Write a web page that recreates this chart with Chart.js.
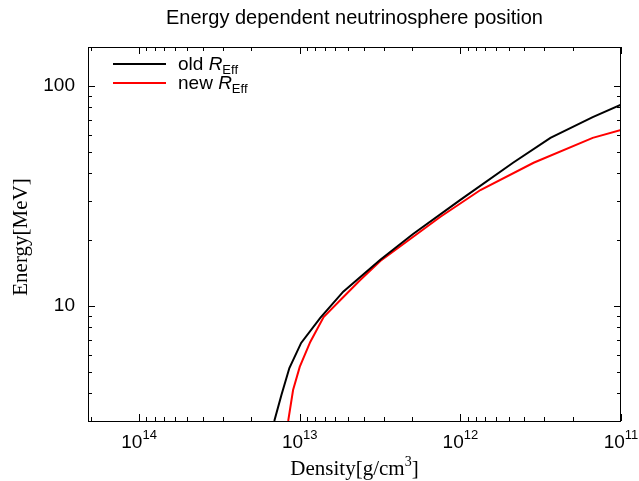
<!DOCTYPE html>
<html>
<head>
<meta charset="utf-8">
<script src="https://cdn.jsdelivr.net/npm/chart.js@4/dist/chart.umd.min.js"></script>
<style>
  html, body { margin: 0; padding: 0; background: #fff; }
  #wrap { width: 639px; height: 481px; }
</style>
</head>
<body>
<div id="wrap"><canvas id="myChart" width="639" height="481"></canvas></div>
<script>
// density [g/cm^3] vs energy [MeV]
const oldDensity = [1.44e13, 1.30e13, 1.16e13, 9.8e12, 7.45e12, 5.36e12, 3.15e12, 1.97e12, 1e12, 4.7e11, 2.75e11, 1.5e11, 1e11];
const oldEnergy  = [3.0, 3.94, 5.22, 6.79, 8.82, 11.6, 16.2, 21.2, 30.3, 44.7, 58, 72, 82];
const newDensity = [1.18e13, 1.1e13, 1.0e13, 8.6e12, 7.1e12, 5.6e12, 4.2e12, 3.15e12, 1.33e12, 7.5e11, 3.5e11, 1.5e11, 1e11];
const newEnergy  = [3.0, 4.15, 5.28, 6.86, 8.9, 10.6, 13.1, 16.0, 25.4, 33.6, 44.7, 58, 63];
const xTickExps = [14, 13, 12, 11];
const yTickValues = [10, 100];
const seriesNames = ["old", "new"];
const seriesColors = ["#000000", "#ff0000"];

function toPoints(xs, ys) {
    return xs.map((x, i) => ({ x: x, y: ys[i] }));
}

const sans = "'Liberation Sans', Arial, sans-serif";
const serif = "'Liberation Serif', 'DejaVu Serif', serif";

const framePlugin = {
    id: "frame",
    afterDraw(chart) {
        const ctx = chart.ctx;
        const a = chart.chartArea;
        const xs = chart.scales.x;
        const ys = chart.scales.y;
        ctx.save();
        ctx.strokeStyle = "#000";
        ctx.lineWidth = 1;
        ctx.strokeRect(Math.round(a.left) + 0.5, Math.round(a.top) + 0.5,
            Math.round(a.right - a.left) - 1, Math.round(a.bottom - a.top));

        // inward ticks, all four sides
        ctx.beginPath();
        for (let d = 10; d <= 14; d++) {
            for (let m = 1; m <= 9; m++) {
                const v = m * Math.pow(10, d);
                if (v < xs.min || v > xs.max) continue;
                const px = Math.round(xs.getPixelForValue(v)) + 0.5;
                const len = m === 1 ? 7 : 4;
                ctx.moveTo(px, a.bottom); ctx.lineTo(px, a.bottom - len);
                ctx.moveTo(px, a.top); ctx.lineTo(px, a.top + len);
            }
        }
        for (let d = 0; d <= 2; d++) {
            for (let m = 1; m <= 9; m++) {
                const v = m * Math.pow(10, d);
                if (v < ys.min || v > ys.max) continue;
                const py = Math.round(ys.getPixelForValue(v)) + 0.5;
                const len = m === 1 ? 7 : 4;
                ctx.moveTo(a.left, py); ctx.lineTo(a.left + len, py);
                ctx.moveTo(a.right, py); ctx.lineTo(a.right - len, py);
            }
        }
        ctx.stroke();

        ctx.fillStyle = "#000";
        // x tick labels with exponents
        xTickExps.forEach(e => {
            const px = xs.getPixelForValue(Math.pow(10, e));
            ctx.font = "19px " + sans;
            const w1 = ctx.measureText("10").width;
            ctx.font = "13px " + sans;
            const w2 = ctx.measureText(String(e)).width;
            const x0 = px - (w1 + w2) / 2;
            ctx.textBaseline = "alphabetic";
            ctx.textAlign = "left";
            ctx.font = "19px " + sans;
            ctx.fillText("10", x0, 448);
            ctx.font = "13px " + sans;
            ctx.fillText(String(e), x0 + w1, 439);
        });

        // title
        ctx.textAlign = "center";
        ctx.font = "20px " + sans;
        ctx.fillText("Energy dependent neutrinosphere position", (a.left + a.right) / 2, 24);

        // axis titles
        ctx.font = "21px " + serif;
        const cx = (a.left + a.right) / 2;
        const t1 = "Density[g/cm";
        const w1 = ctx.measureText(t1).width;
        ctx.font = "14px " + serif;
        const w2 = ctx.measureText("3").width;
        ctx.font = "21px " + serif;
        const w3 = ctx.measureText("]").width;
        let x0 = cx - (w1 + w2 + w3) / 2;
        ctx.textAlign = "left";
        ctx.fillText(t1, x0, 475);
        ctx.font = "14px " + serif;
        ctx.fillText("3", x0 + w1, 466);
        ctx.font = "21px " + serif;
        ctx.fillText("]", x0 + w1 + w2, 475);

        ctx.save();
        ctx.translate(27, 237);
        ctx.rotate(-Math.PI / 2);
        ctx.textAlign = "center";
        ctx.fillText("Energy[MeV]", 0, 0);
        ctx.restore();

        // legend
        seriesNames.forEach((name, i) => {
            const y = 64 + i * 19;
            ctx.strokeStyle = seriesColors[i];
            ctx.lineWidth = 2;
            ctx.beginPath();
            ctx.moveTo(113, y); ctx.lineTo(166, y);
            ctx.stroke();
            ctx.textAlign = "left";
            ctx.fillStyle = "#000";
            ctx.font = "19px " + sans;
            const s = name + " ";
            ctx.fillText(s, 178, y + 6);
            let xx = 178 + ctx.measureText(s).width;
            ctx.font = "italic 19px " + sans;
            ctx.fillText("R", xx, y + 6);
            xx += ctx.measureText("R").width;
            ctx.font = "13px " + sans;
            ctx.fillText("Eff", xx, y + 10);
        });
        ctx.restore();
    }
};

const ctx = document.getElementById("myChart");
new Chart(ctx, {
    type: "scatter",
    data: {
        datasets: [
            {
                label: "old",
                data: toPoints(oldDensity, oldEnergy),
                showLine: true,
                borderColor: seriesColors[0],
                borderWidth: 2,
                pointRadius: 0,
                tension: 0
            },
            {
                label: "new",
                data: toPoints(newDensity, newEnergy),
                showLine: true,
                borderColor: seriesColors[1],
                borderWidth: 2,
                pointRadius: 0,
                tension: 0
            }
        ]
    },
    options: {
        responsive: false,
        animation: false,
        events: [],
        layout: { padding: { top: 47, right: 18, left: 0, bottom: 0 } },
        plugins: {
            legend: { display: false },
            title: { display: false },
            tooltip: { enabled: false }
        },
        scales: {
            x: {
                type: "logarithmic",
                reverse: true,
                min: 1e11,
                max: 2.08e14,
                grid: { display: false, drawTicks: false },
                border: { display: false },
                ticks: { display: false },
                afterFit(scale) { scale.height = 60; }
            },
            y: {
                type: "logarithmic",
                min: 3,
                max: 150,
                grid: { display: false, drawTicks: false },
                border: { display: false },
                afterBuildTicks(scale) {
                    scale.ticks = yTickValues.map(v => ({ value: v }));
                },
                ticks: {
                    padding: 13,
                    color: "#000",
                    font: { family: sans, size: 19 },
                    callback: v => String(v)
                },
                afterFit(scale) { scale.width = 88; }
            }
        }
    },
    plugins: [framePlugin]
});
</script>
</body>
</html>
